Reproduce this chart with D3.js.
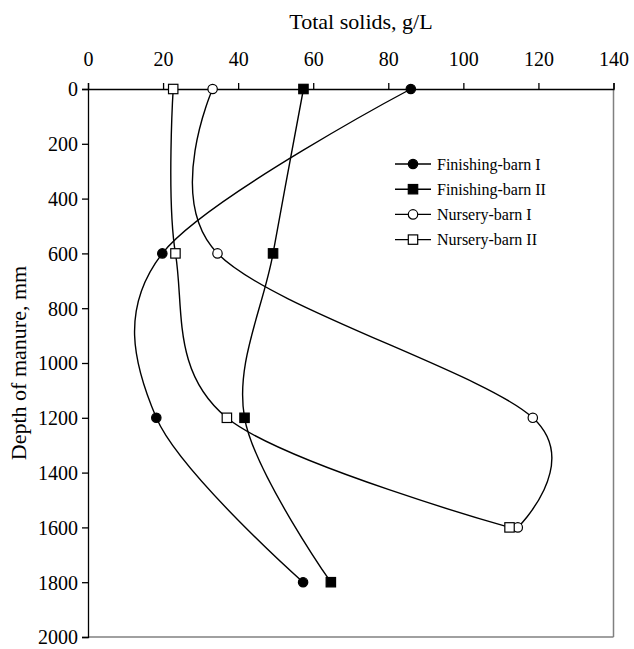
<!DOCTYPE html>
<html>
<head>
<meta charset="utf-8">
<style>
  body { margin: 0; background: #fff; }
  text { font-family: "Liberation Serif", "Times New Roman", serif; fill: #000; }
</style>
</head>
<body>
<div id="container"></div>
<script src="https://cdn.jsdelivr.net/npm/d3@7"></script>
<script>

// depths where samples were taken (mm)
var depthsFinishing = [0, 600, 1200, 1800];
var depthsNursery = [0, 600, 1200, 1600];

// total solids, g/L
var finishingBarnI = [86.0, 19.8, 18.2, 57.3];
var finishingBarnII = [57.4, 49.3, 41.7, 64.7];
var nurseryBarnI = [33.2, 34.5, 118.5, 114.5];
var nurseryBarnII = [22.7, 23.3, 37.0, 112.3];

var xTicks = [0, 20, 40, 60, 80, 100, 120, 140];
var yTicks = [0, 200, 400, 600, 800, 1000, 1200, 1400, 1600, 1800, 2000];

var seriesNames = ["Finishing-barn I", "Finishing-barn II", "Nursery-barn I", "Nursery-barn II"];

var series = [
  { name: seriesNames[0], depth: depthsFinishing, values: finishingBarnI, shape: "circle", filled: true },
  { name: seriesNames[1], depth: depthsFinishing, values: finishingBarnII, shape: "square", filled: true },
  { name: seriesNames[2], depth: depthsNursery, values: nurseryBarnI, shape: "circle", filled: false },
  { name: seriesNames[3], depth: depthsNursery, values: nurseryBarnII, shape: "square", filled: false }
];

var W = 634, H = 649;
var margin = {top: 89, left: 88};
var width = 613.5 - margin.left,
    height = 637 - margin.top;

var svg = d3.select("#container")
  .append("svg")
    .attr("width", W)
    .attr("height", H);

var g = svg.append("g")
  .attr("transform", "translate(" + margin.left + "," + margin.top + ")");

var x = d3.scaleLinear().domain([0, 140]).range([0, width]);
var y = d3.scaleLinear().domain([0, 2000]).range([0, height]);

// plot frame (right and bottom are grey)
g.append("line")
  .attr("x1", width).attr("x2", width)
  .attr("y1", 0).attr("y2", height)
  .attr("stroke", "#808080").attr("stroke-width", 1.5);
g.append("line")
  .attr("x1", 0).attr("x2", width)
  .attr("y1", height).attr("y2", height)
  .attr("stroke", "#808080").attr("stroke-width", 1.5);

// top axis
var xAxis = g.append("g")
  .call(d3.axisTop(x).tickValues(xTicks).tickFormat(d3.format("d"))
    .tickSize(6).tickSizeOuter(6).tickPadding(17));
xAxis.selectAll("path, line").attr("stroke", "#000").attr("stroke-width", 1.3);
xAxis.selectAll("text")
  .style("font-family", '"Liberation Serif", serif')
  .style("font-size", "20px")
  .attr("fill", "#000");

// left axis
var yAxis = g.append("g")
  .call(d3.axisLeft(y).tickValues(yTicks).tickFormat(d3.format("d"))
    .tickSize(6).tickSizeOuter(6).tickPadding(4));
yAxis.selectAll("path, line").attr("stroke", "#000").attr("stroke-width", 1.3);
yAxis.selectAll("text")
  .style("font-family", '"Liberation Serif", serif')
  .style("font-size", "20px")
  .attr("dy", "0.34em")
  .attr("fill", "#000");

// axis titles
svg.append("text")
  .attr("x", 361)
  .attr("y", 29)
  .attr("text-anchor", "middle")
  .style("font-size", "22px")
  .text("Total solids, g/L");

svg.append("text")
  .attr("transform", "translate(26," + (margin.top + height / 2) + ") rotate(-90)")
  .attr("text-anchor", "middle")
  .style("font-size", "22px")
  .text("Depth of manure, mm");

// smoothed lines
var line = d3.line()
  .x(function(d) { return x(d[0]); })
  .y(function(d) { return y(d[1]); })
  .curve(d3.curveCardinal.tension(0));

function pointsOf(s) {
  return s.values.map(function(v, i) { return [v, s.depth[i]]; });
}

series.forEach(function(s) {
  g.append("path")
    .datum(pointsOf(s))
    .attr("d", line)
    .attr("fill", "none")
    .attr("stroke", "#000")
    .attr("stroke-width", 1.4);
});

function drawMarker(sel, s, cx, cy) {
  if (s.shape == "circle") {
    sel.append("circle")
      .attr("cx", cx).attr("cy", cy).attr("r", 4.7)
      .attr("fill", s.filled ? "#000" : "#fff")
      .attr("stroke", "#000").attr("stroke-width", 1.2);
  } else {
    sel.append("rect")
      .attr("x", cx - 4.7).attr("y", cy - 4.7)
      .attr("width", 9.4).attr("height", 9.4)
      .attr("fill", s.filled ? "#000" : "#fff")
      .attr("stroke", "#000").attr("stroke-width", 1.2);
  }
}

series.forEach(function(s) {
  var mg = g.append("g");
  pointsOf(s).forEach(function(p) {
    drawMarker(mg, s, x(p[0]), y(p[1]));
  });
});

// legend
var legend = svg.append("g").attr("transform", "translate(395,164)");
series.forEach(function(s, i) {
  var row = legend.append("g").attr("transform", "translate(0," + (i * 25.2) + ")");
  row.append("line")
    .attr("x1", 0).attr("x2", 36)
    .attr("y1", 0).attr("y2", 0)
    .attr("stroke", "#000").attr("stroke-width", 1.4);
  drawMarker(row, s, 18, 0);
  row.append("text")
    .attr("x", 42)
    .attr("y", 5.5)
    .style("font-size", "16px")
    .text(s.name);
});

</script>
</body>
</html>
